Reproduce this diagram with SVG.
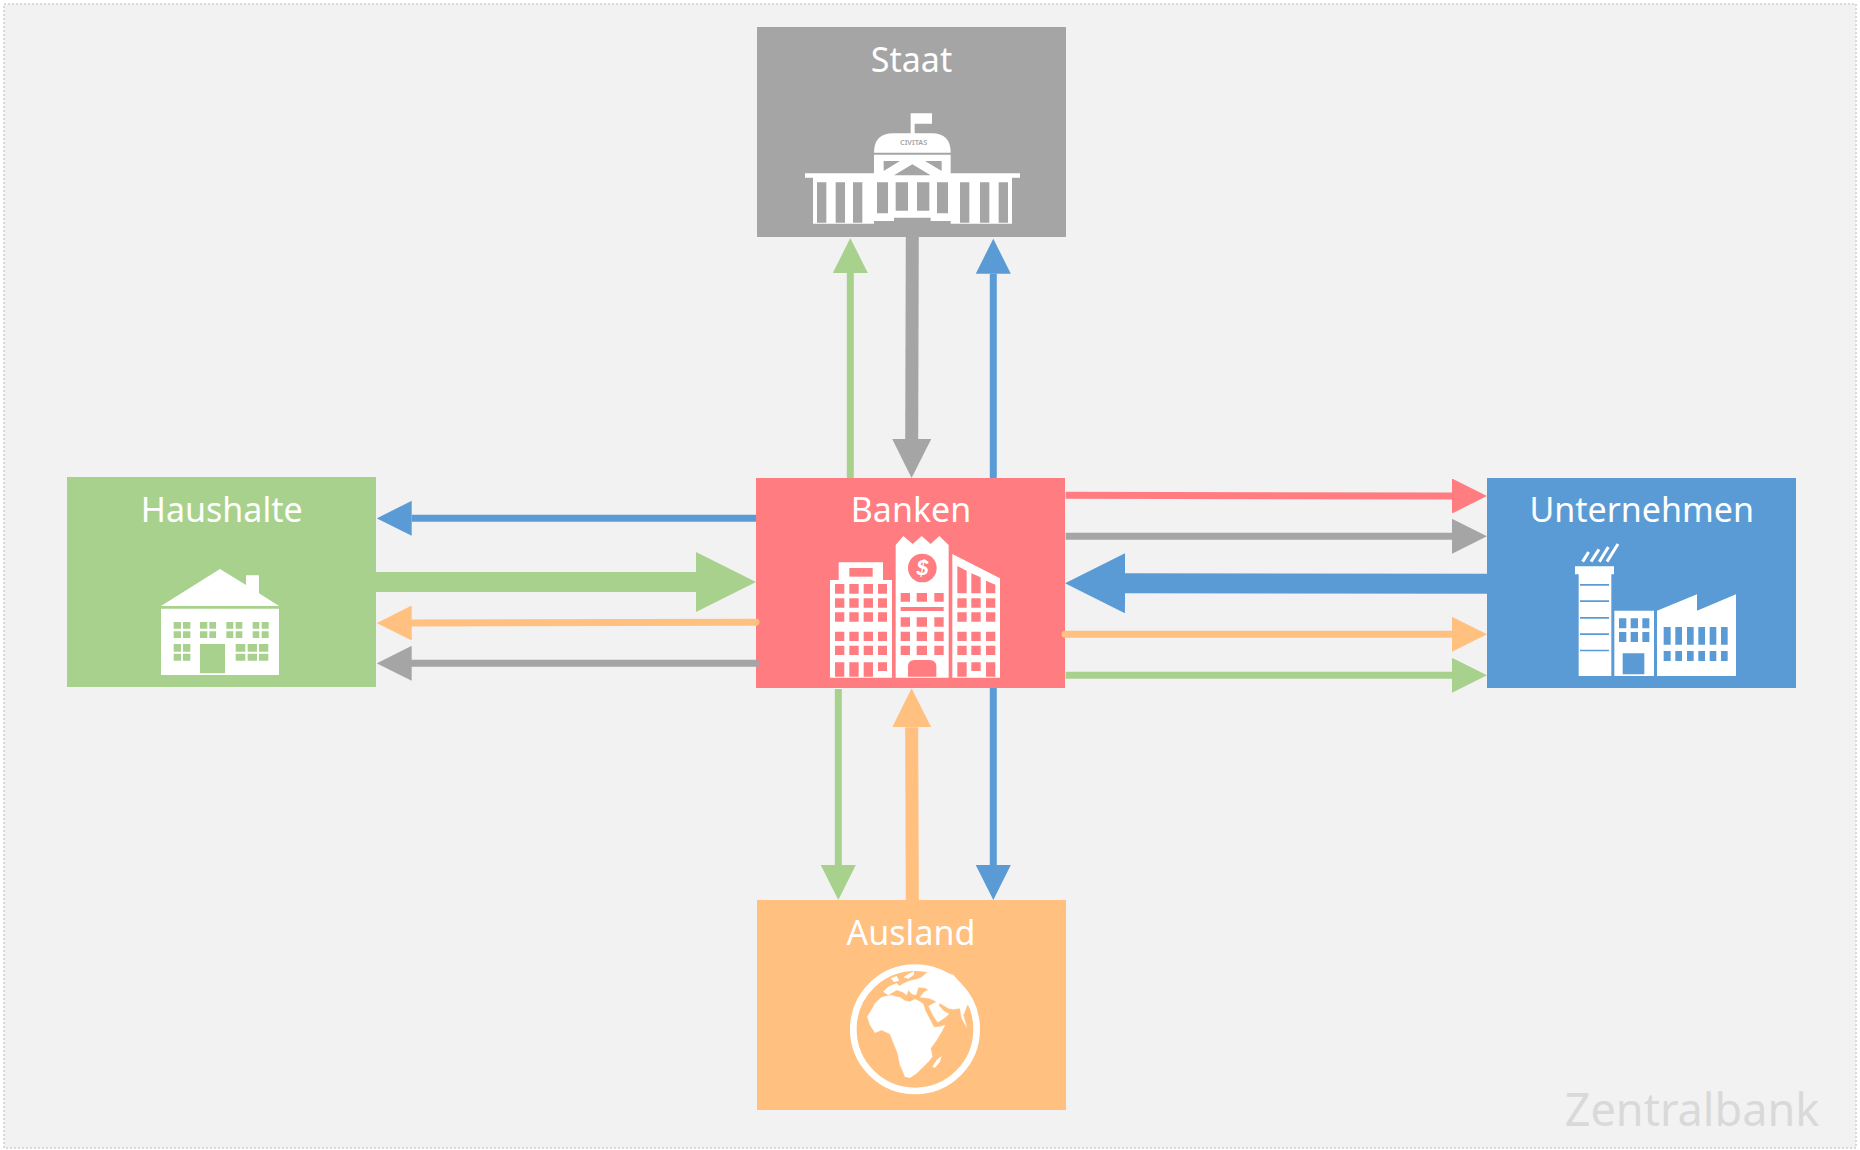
<svg xmlns="http://www.w3.org/2000/svg" width="1860" height="1150" viewBox="0 0 1860 1150">
<defs>
<style>
text{font-family:"Noto Sans","Open Sans","Liberation Sans",sans-serif}
.label{font-size:34px;fill:#fff;text-anchor:middle}
.w{fill:#fff}
.c{fill:none}
.t{stroke-width:7}.m{stroke-width:13}.b{stroke-width:20}
.red{stroke:#FF7C80}.gry{stroke:#A5A5A5}.grn{stroke:#A9D18E}.blu{stroke:#5B9BD5}.org{stroke:#FFC080}
.rd{stroke-linecap:round}
.hg{fill:#A5A5A5}.hr{fill:#FF7C80}.hn{fill:#A9D18E}.hb{fill:#5B9BD5}.ho{fill:#FFC080}
</style>
<marker id="t-red" markerUnits="userSpaceOnUse" markerWidth="35" markerHeight="35" viewBox="0 0 35 35" refX="0" refY="17.5" orient="auto"><path class="hr" d="M0 0L35 17.5L0 35Z"/></marker>
<marker id="t-gry" markerUnits="userSpaceOnUse" markerWidth="35" markerHeight="35" viewBox="0 0 35 35" refX="0" refY="17.5" orient="auto"><path class="hg" d="M0 0L35 17.5L0 35Z"/></marker>
<marker id="t-grn" markerUnits="userSpaceOnUse" markerWidth="35" markerHeight="35" viewBox="0 0 35 35" refX="0" refY="17.5" orient="auto"><path class="hn" d="M0 0L35 17.5L0 35Z"/></marker>
<marker id="t-blu" markerUnits="userSpaceOnUse" markerWidth="35" markerHeight="35" viewBox="0 0 35 35" refX="0" refY="17.5" orient="auto"><path class="hb" d="M0 0L35 17.5L0 35Z"/></marker>
<marker id="t-org" markerUnits="userSpaceOnUse" markerWidth="35" markerHeight="35" viewBox="0 0 35 35" refX="0" refY="17.5" orient="auto"><path class="ho" d="M0 0L35 17.5L0 35Z"/></marker>
<marker id="m-gry" markerUnits="userSpaceOnUse" markerWidth="39" markerHeight="39" viewBox="0 0 39 39" refX="0" refY="19.5" orient="auto"><path class="hg" d="M0 0L39 19.5L0 39Z"/></marker>
<marker id="m-org" markerUnits="userSpaceOnUse" markerWidth="39" markerHeight="39" viewBox="0 0 39 39" refX="0" refY="19.5" orient="auto"><path class="ho" d="M0 0L39 19.5L0 39Z"/></marker>
<marker id="b-grn" markerUnits="userSpaceOnUse" markerWidth="60" markerHeight="60" viewBox="0 0 60 60" refX="0" refY="30" orient="auto"><path class="hn" d="M0 0L60 30L0 60Z"/></marker>
<marker id="b-blu" markerUnits="userSpaceOnUse" markerWidth="60" markerHeight="60" viewBox="0 0 60 60" refX="0" refY="30" orient="auto"><path class="hb" d="M0 0L60 30L0 60Z"/></marker>
</defs>
<rect x="4" y="4" width="1852" height="1144" fill="#F2F2F2" stroke="#D9D9D9" stroke-width="2" stroke-dasharray="2 2"/>
<text x="1692" y="1126" font-size="45" fill="#D9D9D9" text-anchor="middle">Zentralbank</text>

<g id="staat">
<rect x="757" y="27" width="309" height="210" fill="#A5A5A5"/>
<text class="label" x="911.5" y="71.5">Staat</text>
<g transform="translate(740 10) scale(.33333)">
<path class="w" d="M512 310H576V341H524V372H512Z"/>
<path class="w" d="M402 428Q402 370 460 370H575Q632 370 632 428Z"/>
<path class="w" d="M402 434H632V490H840V503H816V641H219V503H195V490H402Z"/>
<g class="hg">
<path d="M431 453H480L431 483ZM555 453H605V483ZM517 463L462 496H572Z"/>
<path d="M231 517h28v121h-28zM287 517h28v121h-28zM339 517h28v121h-28zM660 517h28v121h-28zM720 517h28v121h-28zM776 517h28v121h-28zM411 517h33v93h-33zM467 517h37v85h-37zM531 517h37v85h-37zM591 517h33v93h-33z"/>
<path d="M402 642V633H462V623H572V633H632V642Z"/>
</g>
<text x="521" y="405" font-size="22" class="hg" text-anchor="middle" font-weight="600">CIVITAS</text>
</g>
</g>

<g id="banken">
<rect x="756" y="478" width="309" height="210" fill="#FF7C80"/>
<text class="label" x="911" y="521.5">Banken</text>
<g transform="translate(740 470) scale(.33333)">
<path class="w" d="M296 277H429V330H456V623H270V330H296ZM467 225L490 198L518 222L545 198L572 222L598 198L626 225V623H467ZM637 252L780 325V623H637Z"/>
<g class="hr">
<path d="M328 294h70v26h-70z"/>
<path d="M285 342h28v29h-28zM328 342h28v29h-28zM371 342h28v29h-28zM414 342h27v29h-27zM285 385h28v28h-28zM328 385h28v28h-28zM371 385h28v28h-28zM414 385h27v28h-27zM285 427h28v28h-28zM328 427h28v28h-28zM371 427h28v28h-28zM414 427h27v28h-27zM285 485h28v28h-28zM328 485h28v28h-28zM371 485h28v28h-28zM414 485h27v28h-27zM285 527h28v28h-28zM328 527h28v28h-28zM371 527h28v28h-28zM414 527h27v28h-27zM285 577h28v43h-28zM328 577h28v43h-28zM371 577h28v43h-28zM414 577h27v26h-27z"/>
<circle cx="547" cy="294" r="43"/>
<path d="M482 369h28v26h-28zM530 369h31v26h-31zM583 369h28v26h-28zM482 411h129v12h-129zM482 442h28v28h-28zM530 442h31v28h-31zM583 442h28v28h-28zM482 485h28v28h-28zM530 485h31v28h-31zM583 485h28v28h-28zM482 527h28v28h-28zM530 527h31v28h-31zM583 527h28v28h-28z"/>
<path d="M504 620V590Q504 570 524 570H568Q589 570 589 590V620Z"/>
<path d="M652 288L680 302V370H652ZM694 310L722 322V370H694ZM738 332L766 344V370H738Z"/>
<path d="M652 385h28v28h-28zM694 385h28v28h-28zM738 385h28v28h-28zM652 427h28v28h-28zM694 427h28v28h-28zM738 427h28v28h-28zM652 485h28v28h-28zM694 485h28v28h-28zM738 485h28v28h-28zM652 527h28v28h-28zM694 527h28v28h-28zM738 527h28v28h-28zM652 577h28v43h-28zM694 577h28v26h-28zM738 577h28v43h-28z"/>
</g>
<text x="547" y="316" font-size="64" class="w" text-anchor="middle" font-weight="700" font-style="italic" style="font-family:'Liberation Sans',sans-serif">$</text>
</g>
</g>

<g id="haushalte">
<rect x="67" y="477" width="309" height="210" fill="#A9D18E"/>
<text class="label" x="221.7" y="521.5">Haushalte</text>
<g transform="translate(60 470) scale(.33333)">
<path class="w" d="M303 408L480 297L558 345V316H597V370L657 408ZM303 416H657V615H303Z"/>
<path class="hn" d="M341 456h22v20h-22zM369 456h22v20h-22zM341 484h22v20h-22zM369 484h22v20h-22zM420 456h22v20h-22zM448 456h20v20h-20zM420 484h22v20h-22zM448 484h20v20h-20zM499 456h21v20h-21zM527 456h20v20h-20zM499 484h21v20h-21zM527 484h20v20h-20zM578 456h20v20h-20zM605 456h21v20h-21zM578 484h20v20h-20zM605 484h21v20h-21zM341 522h22v23h-22zM369 522h22v23h-22zM341 551h22v21h-22zM369 551h22v21h-22zM420 522h75v88h-75zM527 522h29v23h-29zM563 522h28v23h-28zM597 522h28v23h-28zM527 551h29v21h-29zM563 551h28v21h-28zM597 551h28v21h-28z"/>
</g>
</g>

<g id="unternehmen">
<rect x="1487" y="478" width="309" height="210" fill="#5B9BD5"/>
<text class="label" x="1641.7" y="522">Unternehmen</text>
<g transform="translate(1480 470) scale(.33333)">
<path d="M308 275L326 246M333 275L357 238M358 275L385 231M381 275L414 222" stroke="#fff" stroke-width="9" fill="none"/>
<path class="w" d="M285 289H402V313H394V618H296V313H285ZM403 422H522V618H403ZM531 422L651 373V422L768 373V618H531Z"/>
<path class="hb" d="M300 342h87v5h-87zM300 391h87v5h-87zM300 441h87v5h-87zM300 490h87v5h-87zM300 539h87v5h-87zM417 445h22v30h-22zM452 445h22v30h-22zM487 445h21v30h-21zM417 486h22v30h-22zM452 486h22v30h-22zM487 486h21v30h-21zM428 550h65v63h-65zM551 471h21v53h-21zM586 471h20v53h-20zM621 471h20v53h-20zM655 471h20v53h-20zM689 471h20v53h-20zM723 471h20v53h-20zM551 543h21v30h-21zM586 543h20v30h-20zM621 543h20v30h-20zM655 543h20v30h-20zM689 543h20v30h-20zM723 543h20v30h-20z"/>
</g>
</g>

<g id="ausland">
<rect x="757" y="900" width="309" height="210" fill="#FFC080"/>
<text class="label" x="911" y="945">Ausland</text>
<g transform="translate(740 890) scale(.33333)">
<circle cx="525" cy="418" r="185" fill="none" stroke="#fff" stroke-width="20"/>
<path class="w" stroke="#fff" stroke-width="1" stroke-linejoin="round" d="M425 322L440 318L455 316L470 320L480 322L495 332L510 335L525 328L538 334L550 342L556 362L568 385L582 412L600 410L615 405L605 425L590 450L572 475L577 500L565 515L550 530L530 550L510 563L495 560L487 540L480 525L473 490L457 450L450 432L425 420L405 428L390 405L382 380L400 350L405 340Z"/>
<path class="w" stroke="#fff" stroke-width="1" stroke-linejoin="round" d="M545 262L560 248L600 243L640 255L670 290L690 345L682 345L670 375L680 412L665 385L660 355L640 358L625 355L600 340L596 346L610 362L627 372L612 385L593 397L580 378L566 348L590 335L568 325L540 322L552 306L565 300L556 294L535 292L528 315L516 312L505 300L500 315L488 306L470 300L445 315L430 305L445 290L470 280L478 288L492 280L510 272L530 268Z"/>
<path class="w" d="M490 262L505 252L522 244L522 254L505 266ZM452 265L470 258L478 272L462 276ZM577 530L590 510L605 498L600 515L585 533Z"/>
</g>
</g>

<g id="connectors" class="c">
<line class="t blu" x1="756" y1="518.3" x2="411.7" y2="518.3" marker-end="url(#t-blu)"/>
<line class="b grn" x1="376" y1="582" x2="696" y2="582" marker-end="url(#b-grn)"/>
<line class="t org rd" x1="756" y1="622.3" x2="411.7" y2="623" marker-end="url(#t-org)"/>
<line class="t gry rd" x1="756" y1="663.3" x2="411.7" y2="663.3" marker-end="url(#t-gry)"/>
<line class="t red" x1="1065.7" y1="495.3" x2="1452" y2="496" marker-end="url(#t-red)"/>
<line class="t gry" x1="1065.7" y1="536.3" x2="1452" y2="536.3" marker-end="url(#t-gry)"/>
<line class="b blu" x1="1487" y1="583.7" x2="1125" y2="583.3" marker-end="url(#b-blu)"/>
<line class="t org rd" x1="1065" y1="634.3" x2="1452" y2="634.3" marker-end="url(#t-org)"/>
<line class="t grn" x1="1065.7" y1="675.3" x2="1452" y2="675.3" marker-end="url(#t-grn)"/>
<line class="t grn" x1="850.3" y1="478" x2="850.3" y2="273" marker-end="url(#t-grn)"/>
<line class="m gry" x1="912.3" y1="237" x2="911.7" y2="439" marker-end="url(#m-gry)"/>
<line class="t blu" x1="993.3" y1="478" x2="993.3" y2="273.7" marker-end="url(#t-blu)"/>
<line class="t grn" x1="838.3" y1="689" x2="838.3" y2="865" marker-end="url(#t-grn)"/>
<line class="m org" x1="912.3" y1="900" x2="911.7" y2="727.3" marker-end="url(#m-org)"/>
<line class="t blu" x1="993.3" y1="688" x2="993.3" y2="865" marker-end="url(#t-blu)"/>
</g>
</svg>
